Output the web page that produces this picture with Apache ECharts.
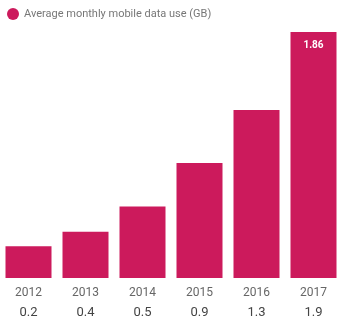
<!DOCTYPE html>
<html><head><meta charset="utf-8">
<script src="https://cdn.jsdelivr.net/npm/echarts@6/dist/echarts.min.js"></script>
<style>html,body{margin:0;padding:0;background:#fff}#c{width:342px;height:323px}</style>
</head><body><div id="c"></div>
<script>
const categories = ['2012','2013','2014','2015','2016','2017'];
const usage = [0.24, 0.35, 0.54, 0.87, 1.27, 1.86];
const valueLabels = ['0.2','0.4','0.5','0.9','1.3','1.9'];
const seriesName = 'Average monthly mobile data use (GB)';
const chart = echarts.init(document.getElementById('c'));
chart.setOption({
  animation: false,
  textStyle: {fontFamily: 'Roboto'},
  legend: {
    left: 2, top: 3, itemWidth: 12, itemHeight: 12, itemGap: 4,
    icon: 'circle',
    textStyle: {color: '#777', fontSize: 11, fontFamily: 'Roboto'},
    data: [seriesName]
  },
  grid: {left: 0, right: 0, top: 32, bottom: 45},
  xAxis: {
    type: 'category', data: categories,
    axisLine: {show: false}, axisTick: {show: false},
    axisLabel: {
      margin: 6,
      formatter: (v, i) => '{y|' + v + '}\n{v|' + valueLabels[i] + '}',
      rich: {
        y: {color: '#666', fontSize: 12, lineHeight: 18, fontFamily: 'Roboto'},
        v: {color: '#444', fontSize: 13, lineHeight: 22, fontFamily: 'Roboto'}
      }
    }
  },
  yAxis: {type: 'value', min: 0, max: 1.86, show: false, splitLine: {show: false}},
  series: [{
    name: seriesName, type: 'bar', data: usage, barWidth: 46,
    itemStyle: {color: '#cc1a5c'},
    label: {
      show: true, position: 'insideTop', distance: 8,
      color: '#fff', fontWeight: 'bold', fontSize: 10,
      formatter: p => p.dataIndex === usage.length - 1 ? p.value.toFixed(2) : ''
    }
  }]
});
</script></body></html>
